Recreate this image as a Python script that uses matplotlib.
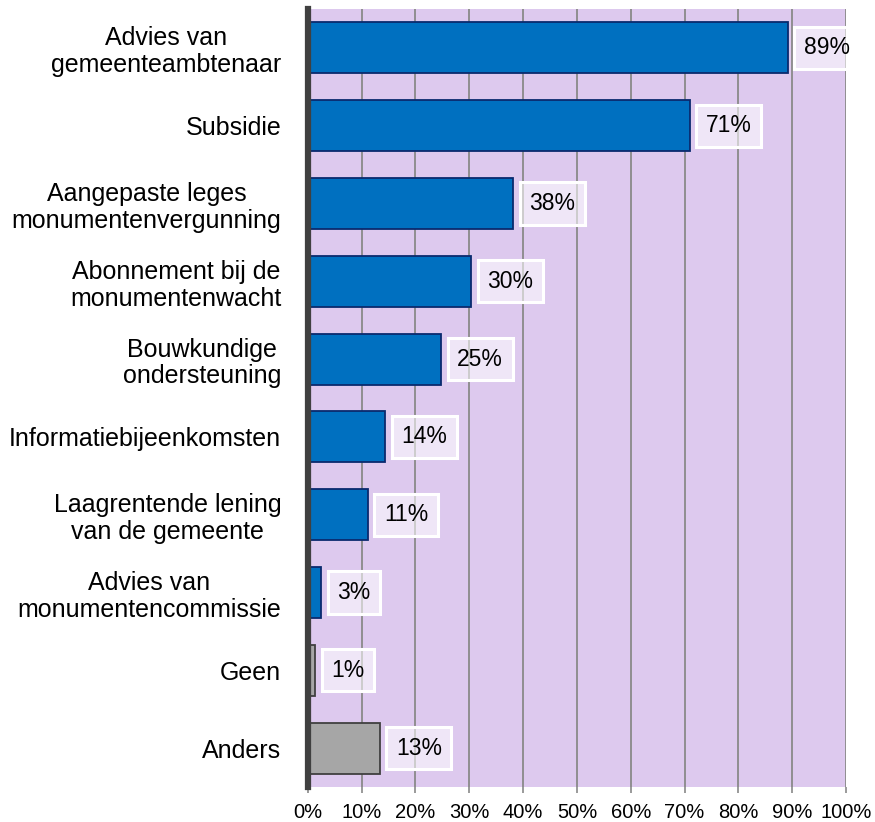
import matplotlib
matplotlib.use("Agg")
import matplotlib.pyplot as plt
import numpy as np

plt.rcParams['font.family'] = ['Liberation Sans', 'DejaVu Sans']

categories = [
    "Advies van\ngemeenteambtenaar",
    "Subsidie",
    "Aangepaste leges\nmonumentenvergunning",
    "Abonnement bij de\nmonumentenwacht",
    "Bouwkundige\nondersteuning",
    "Informatiebijeenkomsten",
    "Laagrentende lening\nvan de gemeente",
    "Advies van\nmonumentencommissie",
    "Geen",
    "Anders",
]
values = [89.2, 71.0, 38.2, 30.4, 24.8, 14.4, 11.2, 2.5, 1.4, 13.4]
labels = ["89%", "71%", "38%", "30%", "25%", "14%", "11%", "3%", "1%", "13%"]
is_other = [False, False, False, False, False, False, False, False, True, True]
xticks = [0, 10, 20, 30, 40, 50, 60, 70, 80, 90, 100]
xticklabels = ["0%", "10%", "20%", "30%", "40%", "50%", "60%", "70%", "80%", "90%", "100%"]

fig = plt.figure(figsize=(8.75, 8.22), dpi=100)
ax = fig.add_axes([0.3517, 0.0426, 0.9669 - 0.3517, 0.989 - 0.0426])
ax.set_facecolor('#DDC9EE')

n = len(categories)
y = np.arange(n)
face = ['#A6A6A6' if o else '#0070C0' for o in is_other]
edge = ['#404040' if o else '#0A2A6E' for o in is_other]
ax.barh(y, values, height=0.655, color=face, edgecolor=edge, linewidth=1.3, zorder=3)

for yi, v, lab in zip(y, values, labels):
    ax.annotate(lab, xy=(v, yi), xytext=(11.5, 0), textcoords='offset points',
                ha='left', va='center', fontsize=16.5, color='black', zorder=5,
                bbox=dict(boxstyle='square,pad=0.42', facecolor=(1, 1, 1, 0.55),
                          edgecolor='white', linewidth=2.2),
                annotation_clip=False)

ax.set_xlim(0, 100)
ax.set_ylim(n - 0.5, -0.5)
ax.set_xticks(xticks)
ax.set_xticklabels(xticklabels, fontsize=14.5)
ax.set_yticks(y)
ax.set_yticklabels(categories, fontsize=18, ha='right', multialignment='center',
                   linespacing=1.15)
ax.tick_params(axis='y', length=0, pad=19)
ax.tick_params(axis='x', length=4.5, width=1.2, color='#898989', pad=7)
ax.xaxis.grid(True, color='#898989', linewidth=1.3, zorder=1)
ax.set_axisbelow(True)
for s in ['top', 'right', 'bottom']:
    ax.spines[s].set_visible(False)
ax.spines['left'].set_color('#404040')
ax.spines['left'].set_linewidth(4.5)
ax.spines['left'].set_zorder(4)

fig.savefig('out.png', dpi=100)
